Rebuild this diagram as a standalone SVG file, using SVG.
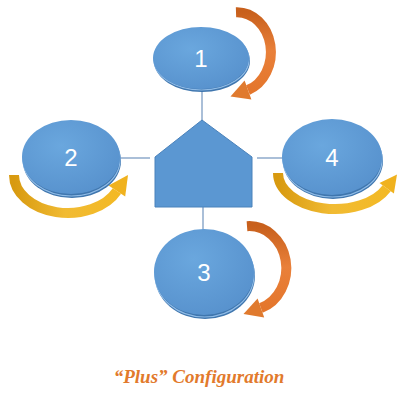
<svg xmlns="http://www.w3.org/2000/svg" width="398" height="402" viewBox="0 0 398 402">
<style>
.face{fill:url(#faceG);}
.rim{fill:#3f76ae;}
.rimhl{fill:none;stroke:#8fbbe6;stroke-width:1.2;}
.num{font-family:"Liberation Sans",Arial,sans-serif;font-size:24px;fill:#ffffff;text-anchor:middle;}
.conn{stroke:#8eaacb;stroke-width:1.5;fill:none;}
.oarc{fill:none;stroke:url(#orG);stroke-width:10;}
.yarc{fill:none;stroke:url(#yeG);stroke-width:10;}
.ohead{fill:#e07a2e;}
.yhead{fill:#f0b21e;}
.title{font-family:"Liberation Serif","Times New Roman",serif;font-size:19px;font-weight:bold;font-style:italic;fill:#e27a2c;text-anchor:middle;}
</style>
<defs>
<radialGradient id="faceG" cx="0.4" cy="0.35" r="0.75">
<stop offset="0" stop-color="#6aa7de"/>
<stop offset="1" stop-color="#5690cc"/>
</radialGradient>
<linearGradient id="orG" x1="0" y1="0" x2="0" y2="1">
<stop offset="0" stop-color="#c8601c"/>
<stop offset="0.5" stop-color="#e9803a"/>
<stop offset="1" stop-color="#e4762c"/>
</linearGradient>
<linearGradient id="yeG" x1="0" y1="0" x2="1" y2="0">
<stop offset="0" stop-color="#d89a10"/>
<stop offset="0.5" stop-color="#f1bb33"/>
<stop offset="1" stop-color="#f3b925"/>
</linearGradient>
</defs>

<g id="connectors">
<line class="conn" x1="202" y1="90" x2="202" y2="121"/>
<line class="conn" x1="120" y1="158" x2="150" y2="158"/>
<line class="conn" x1="257" y1="158" x2="283" y2="158"/>
<line class="conn" x1="203" y1="207" x2="203" y2="231"/>
</g>

<g id="arrow1">
<path class="oarc" d="M 236 12.2 A 34 40 0 0 1 248 90"/>
<polygon class="ohead" points="230.5,96.5 244.6,80.6 251.4,99.4"/>
</g>
<g id="arrow3">
<path class="oarc" d="M 247 226.2 A 37 42 0 0 1 260.9 308"/>
<polygon class="ohead" points="243.5,314 257.6,298.6 264.2,317.4"/>
</g>
<g id="arrow2">
<path class="yarc" d="M 14 175 A 54 38 0 0 0 116.9 191.1"/>
<polygon class="yhead" points="128,175 108.6,185.6 125.2,196.6"/>
</g>
<g id="arrow4">
<path class="yarc" d="M 278 173 A 57 36 0 0 0 386.7 188.2"/>
<polygon class="yhead" points="397,174.5 379.5,182.9 393.9,193.6"/>
</g>

<g id="hub">
<polygon points="202,120 252,157 252,207 155,207 155,157" fill="#5b97d2" stroke="#4a82bb" stroke-width="1"/>
</g>

<g id="node1">
<ellipse class="rim" cx="202" cy="61" rx="48" ry="31"/>
<ellipse class="rimhl" cx="201.5" cy="59.5" rx="47.5" ry="30.5"/>
<ellipse class="face" cx="201" cy="58" rx="48" ry="31"/>
<text class="num" x="201" y="66.5">1</text>
</g>
<g id="node2">
<ellipse class="rim" cx="72" cy="161" rx="49" ry="37"/>
<ellipse class="rimhl" cx="71.5" cy="159.5" rx="48.5" ry="36.5"/>
<ellipse class="face" cx="71" cy="157" rx="49" ry="37"/>
<text class="num" x="71" y="165.5">2</text>
</g>
<g id="node4">
<ellipse class="rim" cx="333" cy="161" rx="50" ry="38"/>
<ellipse class="rimhl" cx="332.5" cy="159.5" rx="49.5" ry="37.5"/>
<ellipse class="face" cx="332" cy="157" rx="50" ry="38"/>
<text class="num" x="332" y="165.5">4</text>
</g>
<g id="node3">
<ellipse class="rim" cx="205" cy="276" rx="50" ry="43"/>
<ellipse class="rimhl" cx="204.5" cy="274.5" rx="49.5" ry="42.5"/>
<ellipse class="face" cx="204" cy="272" rx="50" ry="43"/>
<text class="num" x="204" y="280.5">3</text>
</g>

<text class="title" x="199" y="383">“Plus” Configuration</text>
</svg>
